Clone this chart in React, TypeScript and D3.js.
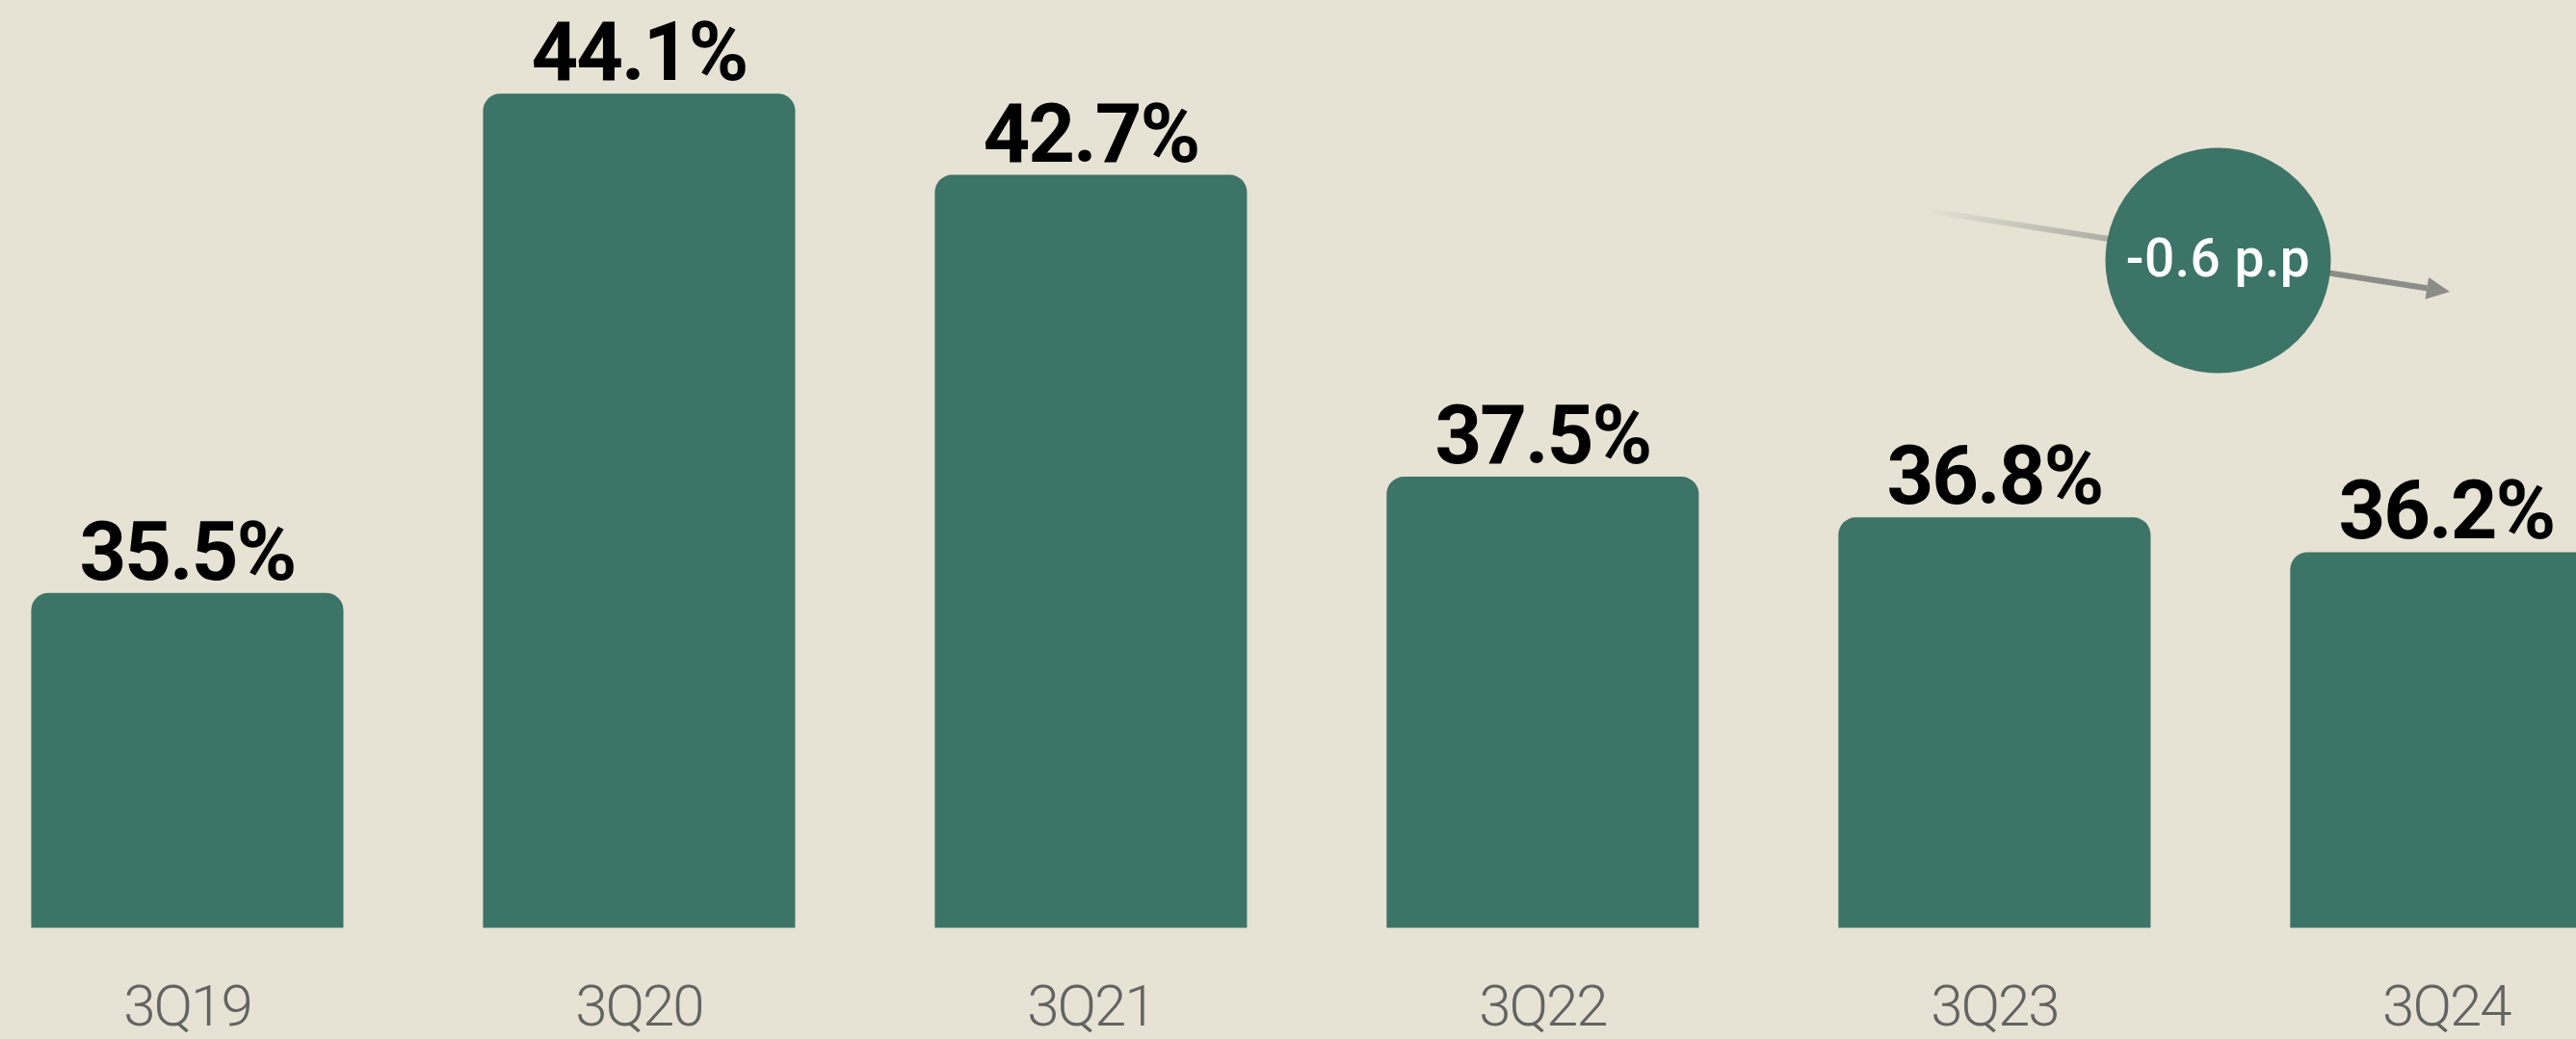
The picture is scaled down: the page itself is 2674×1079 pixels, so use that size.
import React from "react";
import * as d3 from "d3";

const categories = ["3Q19", "3Q20", "3Q21", "3Q22", "3Q23", "3Q24"];
const values = [35.5, 44.1, 42.7, 37.5, 36.8, 36.2];
const valueLabels = ["35.5%", "44.1%", "42.7%", "37.5%", "36.8%", "36.2%"];
const changeLabel = "-0.6 p.p";

const W = 2674;
const H = 1079;
const BG = "#e6e3d4";
const BAR = "#3c7467";

function topRoundedBar(x: number, y: number, w: number, h: number, r: number) {
  const p = d3.path();
  p.moveTo(x, y + h);
  p.lineTo(x, y + r);
  p.arcTo(x, y, x + r, y, r);
  p.lineTo(x + w - r, y);
  p.arcTo(x + w, y, x + w, y + r, r);
  p.lineTo(x + w, y + h);
  p.closePath();
  return p.toString();
}

export default function App() {
  const x = d3
    .scaleBand<string>()
    .domain(categories)
    .range([32.4, 2701.4])
    .paddingInner(0.309)
    .paddingOuter(0);
  const y = d3.scaleLinear().domain([29.73, 44.1]).range([963.5, 97.2]);
  const baseY = y(29.73);

  // arrow geometry
  const ax0 = 1995, ay0 = 218;
  const tipX = 2543, tipY = 303;
  const ang = Math.atan2(tipY - ay0, tipX - ax0);
  const headLen = 24, headHalf = 11.5;
  const bx = tipX - headLen * Math.cos(ang);
  const by = tipY - headLen * Math.sin(ang);
  const px = -Math.sin(ang), py = Math.cos(ang);
  const head = `M${tipX},${tipY}L${bx + px * headHalf},${by + py * headHalf}L${bx - px * headHalf},${by - py * headHalf}Z`;

  return (
    <svg
      width={W}
      height={H}
      viewBox={`0 0 ${W} ${H}`}
      style={{ position: "absolute", left: 0, top: 0, display: "block" }}
    >
      <defs>
        <linearGradient id="arrowGrad" gradientUnits="userSpaceOnUse" x1={ax0} y1={ay0} x2={bx} y2={by}>
          <stop offset="0" stopColor="#8c8c88" stopOpacity={0} />
          <stop offset="0.6" stopColor="#8c8c88" stopOpacity={1} />
          <stop offset="1" stopColor="#8c8c88" stopOpacity={1} />
        </linearGradient>
      </defs>
      <rect x={0} y={0} width={W} height={H} fill={BG} />
      {categories.map((c, i) => {
        const bx0 = x(c)!;
        const bw = x.bandwidth();
        const top = y(values[i]);
        const cx = bx0 + bw / 2;
        return (
          <g key={c}>
            <path d={topRoundedBar(bx0, top, bw, baseY - top, 18)} fill={BAR} />
            <text
              x={cx}
              y={top - 14}
              textAnchor="middle"
              fontFamily="Roboto, 'Liberation Sans', sans-serif"
              fontWeight={700}
              fontSize={85}
              letterSpacing={-2}
              fill="#000"
            >
              {valueLabels[i]}
            </text>
            <text
              x={cx}
              y={1065}
              textAnchor="middle"
              fontFamily="Roboto, 'Liberation Sans', sans-serif"
              fontWeight={300}
              fontSize={60}
              letterSpacing={-2}
              fill="#636363"
            >
              {c}
            </text>
          </g>
        );
      })}
      <line x1={ax0} y1={ay0} x2={bx} y2={by} stroke="url(#arrowGrad)" strokeWidth={6} />
      <path d={head} fill="#8c8c88" />
      <circle cx={2302.5} cy={270.5} r={117} fill={BAR} />
      <text
        x={2302.5}
        y={287}
        textAnchor="middle"
        fontFamily="Roboto, 'Liberation Sans', sans-serif"
        fontWeight={500}
        fontSize={55}
        letterSpacing={0.5}
        fill="#ffffff"
      >
        {changeLabel}
      </text>
    </svg>
  );
}
